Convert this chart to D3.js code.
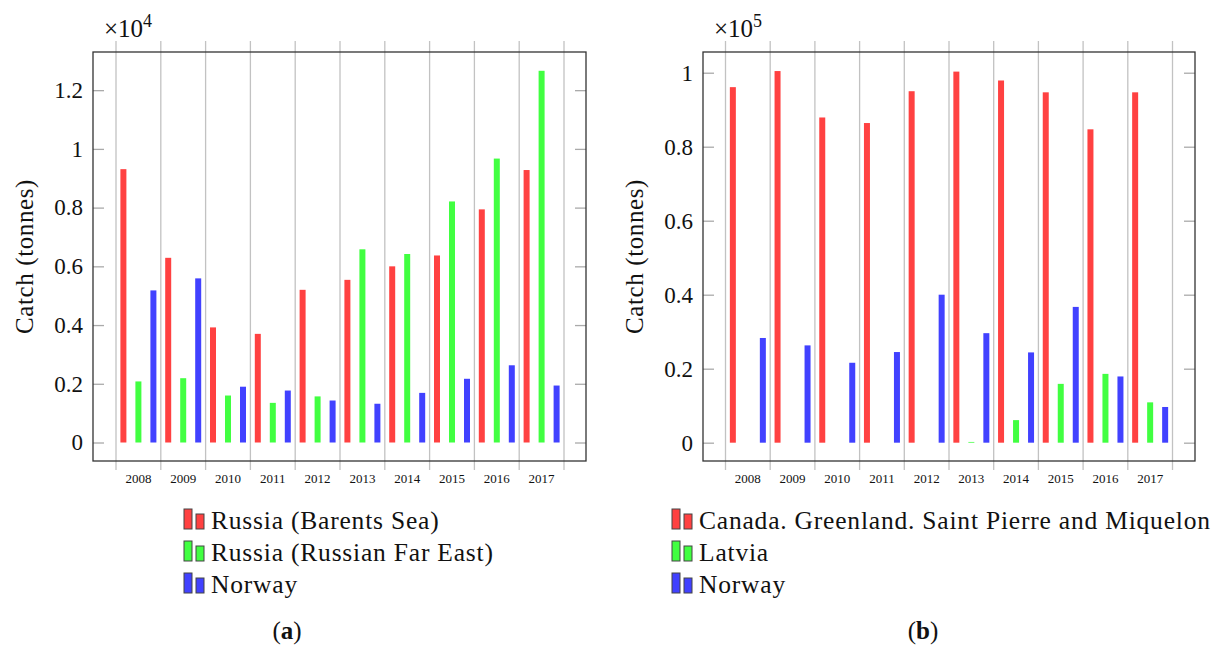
<!DOCTYPE html>
<html>
<head>
<meta charset="utf-8">
<script src="https://cdn.jsdelivr.net/npm/d3@7"></script>
<style>
  body { margin: 0; background: #fff; }
  svg, svg text { font-family: "Liberation Serif", "DejaVu Serif", serif; }
</style>
</head>
<body>
<svg id="chart" width="1231" height="645"></svg>
<script>
// data
const years = ["2008", "2009", "2010", "2011", "2012", "2013", "2014", "2015", "2016", "2017"];

// panel (a), tonnes
const seriesA = ["Russia (Barents Sea)", "Russia (Russian Far East)", "Norway"];
const barentsA = [9310, 6290, 3920, 3700, 5200, 5540, 6000, 6370, 7940, 9280];
const farEastA = [2080, 2190, 1600, 1350, 1570, 6580, 6420, 8210, 9670, 12660];
const norwayA  = [5180, 5590, 1900, 1770, 1430, 1320, 1690, 2170, 2630, 1940];
const ticksA = [0, 2000, 4000, 6000, 8000, 10000, 12000];
const tickLabelsA = ["0", "0.2", "0.4", "0.6", "0.8", "1", "1.2"];

// panel (b), tonnes
const seriesB = ["Canada. Greenland. Saint Pierre and Miquelon", "Latvia", "Norway"];
const canadaB = [96100, 100450, 87900, 86400, 95000, 100300, 97900, 94700, 84700, 94700];
const latviaB = [null, null, null, null, null, 200, 6100, 15900, 18600, 10900];
const norwayB = [28300, 26300, 21600, 24500, 40000, 29600, 24400, 36700, 17900, 9650];
const ticksB = [0, 20000, 40000, 60000, 80000, 100000];
const tickLabelsB = ["0", "0.2", "0.4", "0.6", "0.8", "1"];

const colors = ["#ff4141", "#41ff41", "#4141ff"];
const serif = "Liberation Serif";

const svg = d3.select("#chart");

function drawPanel(cfg) {
  const g = svg.append("g");
  const left = cfg.left, right = cfg.right, top = 52, bottom = 461;

  const x = d3.scaleBand().domain(years).range([cfg.gridStart, cfg.gridEnd]);
  const sub = d3.scalePoint().domain([0, 1, 2]).range([-15, 15]);
  const y = d3.scaleLinear().domain(cfg.yDomain).range([bottom, top]);

  // vertical grid lines at the band edges, running past the frame
  const edges = years.map(d => x(d)).concat([x(years[years.length - 1]) + x.bandwidth()]);
  g.selectAll(".grid").data(edges).join("line")
    .attr("x1", d => d).attr("x2", d => d)
    .attr("y1", 41).attr("y2", 470)
    .attr("stroke", "#c2c2c2").attr("stroke-width", 1.3);

  // bars
  cfg.values.forEach((vals, s) => {
    g.selectAll(".bar" + s).data(years.map((yr, i) => ({yr, v: vals[i]})).filter(d => d.v != null))
      .join("rect")
      .attr("x", d => x(d.yr) + x.bandwidth() / 2 + sub(s) - 3)
      .attr("width", 6)
      .attr("y", d => y(d.v))
      .attr("height", d => y(0) - y(d.v))
      .attr("fill", colors[s]);
  });

  // y ticks, inside on both sides
  const yAxis = d3.axisLeft(y).tickValues(cfg.ticks).tickSize(-11).tickPadding(10)
    .tickFormat((d, i) => cfg.tickLabels[i]);
  const ya = g.append("g").attr("transform", `translate(${left},0)`).call(yAxis);
  ya.attr("font-family", serif);
  ya.select(".domain").remove();
  ya.selectAll("line").attr("stroke", "#aaa").attr("stroke-width", 1.3);
  ya.selectAll("text").attr("font-size", 23).attr("fill", "#111");

  const yr = g.append("g").attr("transform", `translate(${right},0)`)
    .call(d3.axisRight(y).tickValues(cfg.ticks).tickSize(-11).tickFormat(""));
  yr.select(".domain").remove();
  yr.selectAll("line").attr("stroke", "#aaa").attr("stroke-width", 1.3);

  // year labels
  const xa = g.append("g").attr("transform", `translate(0,${bottom})`)
    .call(d3.axisBottom(x).tickSize(0).tickPadding(13));
  xa.attr("font-family", serif);
  xa.select(".domain").remove();
  xa.selectAll("text").attr("font-size", 13).attr("fill", "#111");

  // frame
  g.append("rect").attr("x", left).attr("y", top)
    .attr("width", right - left).attr("height", bottom - top)
    .attr("fill", "none").attr("stroke", "#333").attr("stroke-width", 1.3);

  // multiplier
  const m = g.append("text").attr("x", cfg.multX).attr("y", 37)
    .attr("font-size", 25).attr("fill", "#111");
  m.append("tspan").text("\u00d710");
  m.append("tspan").attr("font-size", 18).attr("dy", -10).text(cfg.exponent);

  // axis title
  g.append("text")
    .attr("transform", `translate(${cfg.titleX},${(top + bottom) / 2}) rotate(-90)`)
    .attr("text-anchor", "middle").attr("font-size", 25).attr("letter-spacing", 0.6)
    .attr("fill", "#111")
    .text("Catch (tonnes)");

  // legend
  const lg = g.append("g").attr("transform", `translate(${cfg.legendX},0)`);
  cfg.series.forEach((name, s) => {
    const base = 529 + s * 32;
    lg.append("rect").attr("x", 0).attr("y", base - 20).attr("width", 8).attr("height", 20)
      .attr("fill", colors[s]).attr("stroke", "#444").attr("stroke-width", 1);
    lg.append("rect").attr("x", 12).attr("y", base - 15).attr("width", 8).attr("height", 15)
      .attr("fill", colors[s]).attr("stroke", "#444").attr("stroke-width", 1);
    lg.append("text").attr("x", 27).attr("y", base)
      .attr("font-size", 25.5).attr("letter-spacing", 0.8).attr("fill", "#111").text(name);
  });

  // caption
  const c = g.append("text").attr("x", cfg.captionX).attr("y", 639)
    .attr("text-anchor", "middle").attr("font-size", 25).attr("fill", "#111");
  c.append("tspan").text("(");
  c.append("tspan").attr("font-weight", "bold").text(cfg.caption);
  c.append("tspan").text(")");
}

drawPanel({
  left: 93, right: 586, gridStart: 116, gridEnd: 564,
  yDomain: [-630, 13300], ticks: ticksA, tickLabels: tickLabelsA,
  values: [barentsA, farEastA, norwayA], series: seriesA,
  exponent: "4", multX: 104, titleX: 33, legendX: 184, captionX: 287, caption: "a"
});

drawPanel({
  left: 703, right: 1195, gridStart: 725.5, gridEnd: 1172.5,
  yDomain: [-4950, 105600], ticks: ticksB, tickLabels: tickLabelsB,
  values: [canadaB, latviaB, norwayB], series: seriesB,
  exponent: "5", multX: 714, titleX: 643, legendX: 672, captionX: 923, caption: "b"
});
</script>
</body>
</html>
